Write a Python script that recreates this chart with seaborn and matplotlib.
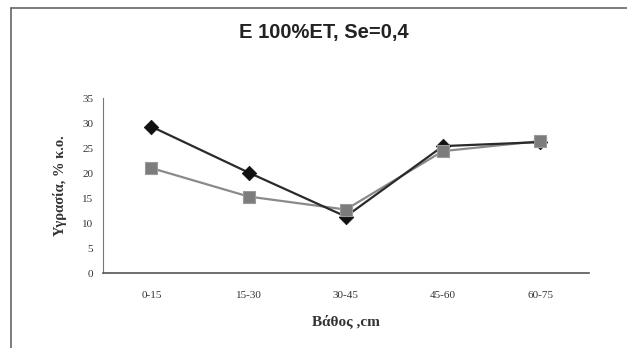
import matplotlib
matplotlib.use("Agg")
import matplotlib.pyplot as plt
from matplotlib.lines import Line2D
from matplotlib.ticker import FixedLocator
import numpy as np
import pandas as pd
import seaborn as sns

depths = ["0-15", "15-30", "30-45", "45-60", "60-75"]
series_a = [29.3, 20.1, 11.3, 25.4, 26.2]   # black diamonds
series_b = [21.0, 15.3, 12.7, 24.4, 26.4]   # gray squares
y_ticks = [0, 5, 10, 15, 20, 25, 30, 35]

title = "E 100%ET, Se=0,4"
x_label = "Βάθος ,cm"
y_label = "Υγρασία, % κ.ο."


def main():
    sns.set_style("white")
    plt.rcParams["font.family"] = ["Liberation Serif", "DejaVu Serif"]

    df = pd.DataFrame({"depth": depths, "a": series_a, "b": series_b})
    df["pos"] = np.arange(len(depths))

    fig = plt.figure(figsize=(6.27, 3.48), dpi=100)
    ax = fig.add_axes([0.164, 0.2155, 0.775, 0.5025])

    # lines first, markers on top (squares above diamonds like the original)
    sns.lineplot(data=df, x="pos", y="b", ax=ax, color="#8a8a8a", lw=1.6, zorder=2)
    sns.lineplot(data=df, x="pos", y="a", ax=ax, color="#2a2a2a", lw=1.6, zorder=3)
    sns.scatterplot(data=df, x="pos", y="a", ax=ax, marker="D", s=55,
                    color="#111111", edgecolor="#111111", linewidth=0.5, zorder=4)
    sns.scatterplot(data=df, x="pos", y="b", ax=ax, marker="s", s=75,
                    color="#7c7c7c", edgecolor="#9a9a9a", linewidth=0.8, zorder=5)

    ax.set_xlim(-0.5, len(depths) - 0.5)
    ax.set_ylim(0, 35)
    ax.set_yticks(y_ticks)
    ax.set_yticklabels([str(t) for t in y_ticks], fontsize=8)
    ax.set_xticks(df["pos"])
    ax.set_xticklabels(depths, fontsize=8)
    ax.xaxis.set_minor_locator(FixedLocator(np.arange(0.5, len(depths) - 0.5, 1)))
    ax.tick_params(axis="x", which="major", length=0, pad=13, colors="#333333")
    ax.tick_params(axis="x", which="minor", length=3, direction="out", color="#888888")
    ax.tick_params(axis="y", length=3, direction="out", pad=4, colors="#333333", color="#777777")

    for s in ["top", "right"]:
        ax.spines[s].set_visible(False)
    ax.spines["left"].set_color("#777777")
    ax.spines["bottom"].set_color("#555555")
    ax.spines["left"].set_linewidth(0.8)
    ax.spines["bottom"].set_linewidth(1.2)

    ax.set_xlabel(x_label, fontsize=11, fontweight="bold", labelpad=10, color="#333333")
    ax.set_ylabel(y_label, fontsize=10.5, fontweight="bold", labelpad=11, color="#333333")

    fig.text(0.517, 0.908, title, ha="center", va="center", fontsize=14.5,
             fontweight="bold", family=["Liberation Sans", "DejaVu Sans"], color="#222222")

    # scanned frame around the chart
    fig.add_artist(Line2D([0.017, 1.0], [0.977, 0.977], color="#666666", lw=1.2))
    fig.add_artist(Line2D([0.017, 0.017], [0.0, 0.977], color="#666666", lw=1.2))

    fig.savefig("out.png", dpi=100)
    plt.close(fig)


if __name__ == "__main__":
    main()
